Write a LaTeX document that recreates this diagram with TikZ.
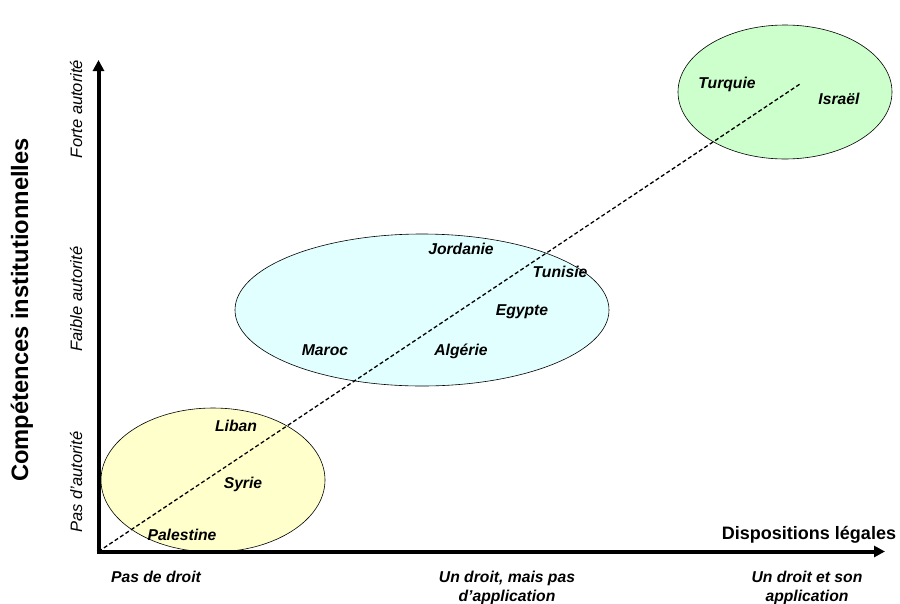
\documentclass[tikz,border=0pt]{standalone}
\usepackage{fontspec}
\setmainfont{Liberation Sans}
\usetikzlibrary{arrows.meta}
\definecolor{zoneyellow}{RGB}{255,255,204}
\definecolor{zonecyan}{RGB}{226,255,255}
\definecolor{zonegreen}{RGB}{204,255,204}
\begin{document}
\begin{tikzpicture}[
  x=1pt,y=-1pt,
  axis/.style={line width=4pt,-{Triangle[length=11pt,width=11pt]}},
  trend/.style={line width=1.3pt,dash pattern=on 4pt off 2.5pt},
  zone/.style={draw=black,line width=0.6pt},
  country/.style={anchor=base,font=\fontsize{15.7}{19}\selectfont\bfseries\itshape},
  level/.style={anchor=base,align=center,font=\fontsize{15.7}{19}\selectfont\bfseries\itshape},
  authority/.style={anchor=base,rotate=90,font=\fontsize{16.5}{20}\selectfont\itshape},
  axistitle/.style={anchor=base}]
  \useasboundingbox (0,0) rectangle (900,603);
  \coordinate (O) at (98.5,551.5);
  \coordinate (YT) at (98.5,60);
  \coordinate (XT) at (885,551.5);
  \coordinate (E) at (800,84);
  % zones
  \draw[zone,fill=zoneyellow] (213,480) ellipse [x radius=112pt,y radius=72pt];
  \draw[zone,fill=zonecyan] (422,310) ellipse [x radius=187pt,y radius=76pt];
  \draw[zone,fill=zonegreen] (785,92) ellipse [x radius=107pt,y radius=67pt];
  \draw[trend] (O) -- (E);
  % axes
  \draw[axis] ([yshift=-2pt]O) -- (YT);
  \draw[axis] ([xshift=-2pt]O) -- (XT);
  \node[country] (turquie) at (727,88) {Turquie};
  \node[country] (israel) at (839,104) {Israël};
  \node[country] (jordanie) at (461,254) {Jordanie};
  \node[country] (tunisie) at (560,277) {Tunisie};
  \node[country] (egypte) at (522,315) {Egypte};
  \node[country] (maroc) at (325,355) {Maroc};
  \node[country] (algerie) at (461,355) {Algérie};
  \node[country] (liban) at (236,431) {Liban};
  \node[country] (syrie) at (243,488) {Syrie};
  \node[country] (palestine) at (182,540) {Palestine};
  \node[level] (sansdroit) at (156,582) {Pas de droit};
  % base anchor = last line
  \node[level] (droitseul) at (507,601) {Un droit, mais pas\\d'application};
  \node[level] (droitapplique) at (807,601) {Un droit et son\\application};
  \node[authority] (pasaut) at (82,482) {Pas d'autorité};
  \node[authority] (faibleaut) at (82,299) {Faible autorité};
  \node[authority] (forteaut) at (82,109) {Forte autorité};
  \node[axistitle,rotate=90,font=\fontsize{23.7}{28}\selectfont\bfseries] (ytitle) at (28,310) {Compétences institutionnelles};
  \node[axistitle,font=\fontsize{18}{22}\selectfont\bfseries] (xtitle) at (809,539) {Dispositions légales};
\end{tikzpicture}
\end{document}
